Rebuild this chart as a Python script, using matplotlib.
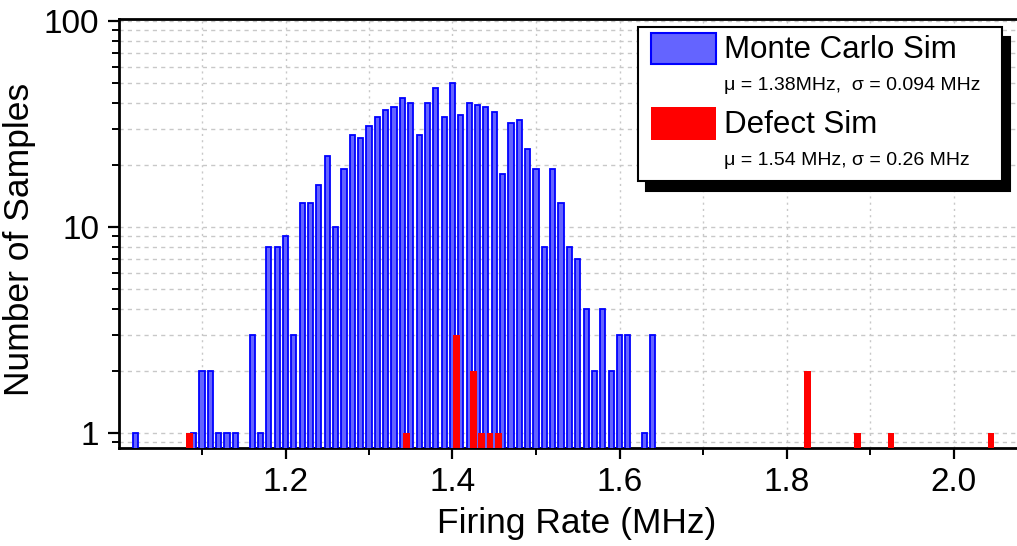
import numpy as np
import matplotlib
matplotlib.use("Agg")
import matplotlib.pyplot as plt
from matplotlib.patches import Rectangle
from matplotlib.ticker import LogLocator, FixedLocator, NullFormatter, FuncFormatter

plt.rcParams['font.family'] = ['Liberation Sans', 'DejaVu Sans']

# Monte Carlo histogram (bin centres in MHz, counts)
mc_rate = [1.02, 1.09, 1.10, 1.11, 1.12, 1.13, 1.14, 1.16, 1.17, 1.18, 1.19,
           1.20, 1.21, 1.22, 1.23, 1.24, 1.25, 1.26, 1.27, 1.28, 1.29,
           1.30, 1.31, 1.32, 1.33, 1.34, 1.35, 1.36, 1.37, 1.38, 1.39,
           1.40, 1.41, 1.42, 1.43, 1.44, 1.45, 1.46, 1.47, 1.48, 1.49,
           1.50, 1.51, 1.52, 1.53, 1.54, 1.55, 1.56, 1.57, 1.58, 1.59,
           1.60, 1.61, 1.63, 1.64]
mc_count = [1, 1, 2, 2, 1, 1, 1, 3, 1, 8, 8,
            9, 3, 13, 13, 16, 22, 10, 19, 28, 27,
            31, 34, 37, 38, 42, 40, 28, 40, 47, 34,
            50, 35, 40, 39, 38, 36, 18, 32, 33, 24,
            19, 8, 19, 13, 8, 7, 4, 2, 4, 2,
            3, 3, 1, 3]

# Defect simulation histogram
defect_rate = [1.085, 1.345, 1.405, 1.425, 1.435, 1.445, 1.455, 1.825, 1.885, 1.925, 2.045]
defect_count = [1, 1, 3, 2, 1, 1, 1, 2, 1, 1, 1]

mc_label = "Monte Carlo Sim"
mc_stats = "μ = 1.38MHz,  σ = 0.094 MHz"
defect_label = "Defect Sim"
defect_stats = "μ = 1.54 MHz, σ = 0.26 MHz"

W, H = 1017, 546
fig = plt.figure(figsize=(W / 100, H / 100), dpi=100)
ax = fig.add_axes([118.5 / W, (H - 448) / H, (W - 118.5) / W, (448 - 19) / H])

ax.set_yscale('log')
ax.bar(mc_rate, mc_count, width=0.0062, color='#6464ff', edgecolor='#0000ff',
       linewidth=1.3, zorder=3)
ax.bar(defect_rate, defect_count, width=0.0078, color='#ff0000', linewidth=0,
       zorder=4)

ax.set_xlim(1.0, 1.0 + (W - 118.5) / 835)
ax.set_ylim(0.846, 102)

ax.xaxis.set_major_locator(FixedLocator([1.2, 1.4, 1.6, 1.8, 2.0]))
ax.xaxis.set_minor_locator(FixedLocator([1.1, 1.3, 1.5, 1.7, 1.9]))
ax.set_xticklabels(['1.2', '1.4', '1.6', '1.8', '2.0'])
ax.yaxis.set_major_locator(LogLocator(base=10, numticks=10))
ax.yaxis.set_minor_locator(LogLocator(base=10, subs=np.arange(2, 10) * 0.1 * 10, numticks=10))
ax.yaxis.set_major_formatter(FuncFormatter(lambda v, p: f"{v:g}"))
ax.yaxis.set_minor_formatter(NullFormatter())

ax.tick_params(which='major', direction='out', length=8, width=1.6, labelsize=24, pad=6)
ax.tick_params(which='minor', direction='out', length=5, width=1.4)

ax.grid(which='both', axis='y', color='#c8c8c8', linestyle=(0, (3, 3)), linewidth=1, zorder=0)
ax.grid(which='both', axis='x', color='#c8c8c8', linestyle=(0, (1.5, 3)), linewidth=1, zorder=0)
ax.set_axisbelow(True)

for s in ['left', 'bottom', 'top']:
    ax.spines[s].set_linewidth(2)
ax.spines['right'].set_visible(False)

ax.set_xlabel('Firing Rate (MHz)', fontsize=25.5)
ax.set_ylabel('Number of Samples', fontsize=25.5)
ax.xaxis.set_label_coords(0.51, -0.137)
ax.yaxis.set_label_coords(-0.092, 0.485)

# legend box with drop shadow, drawn in figure pixels
def px(x, y):
    return x / W, 1 - y / H

bx0, by0, bx1, by1 = 638, 27, 1002, 181
for (ox, oy, fc) in [(8, 10, 'black'), (0, 0, 'white')]:
    x0, y0 = px(bx0 + ox, by1 + oy)
    fig.add_artist(Rectangle((x0, y0), (bx1 - bx0) / W, (by1 - by0) / H,
                             transform=fig.transFigure, facecolor=fc,
                             edgecolor='black', linewidth=1.5, zorder=10))

x0, y0 = px(651, 64)
fig.add_artist(Rectangle((x0, y0), 65 / W, 31 / H, transform=fig.transFigure,
                         facecolor='#6464ff', edgecolor='#0000ff', linewidth=1.5, zorder=11))
x0, y0 = px(651, 140)
fig.add_artist(Rectangle((x0, y0), 65 / W, 33 / H, transform=fig.transFigure,
                         facecolor='#ff0000', edgecolor='none', zorder=11))

fig.text(*px(724, 50), mc_label, fontsize=22.5, va='center', ha='left', zorder=12)
fig.text(*px(724, 85), mc_stats, fontsize=14, va='center', ha='left', zorder=12)
fig.text(*px(724, 125), defect_label, fontsize=22.5, va='center', ha='left', zorder=12)
fig.text(*px(724, 160), defect_stats, fontsize=14, va='center', ha='left', zorder=12)

fig.savefig('out.png', dpi=100)
